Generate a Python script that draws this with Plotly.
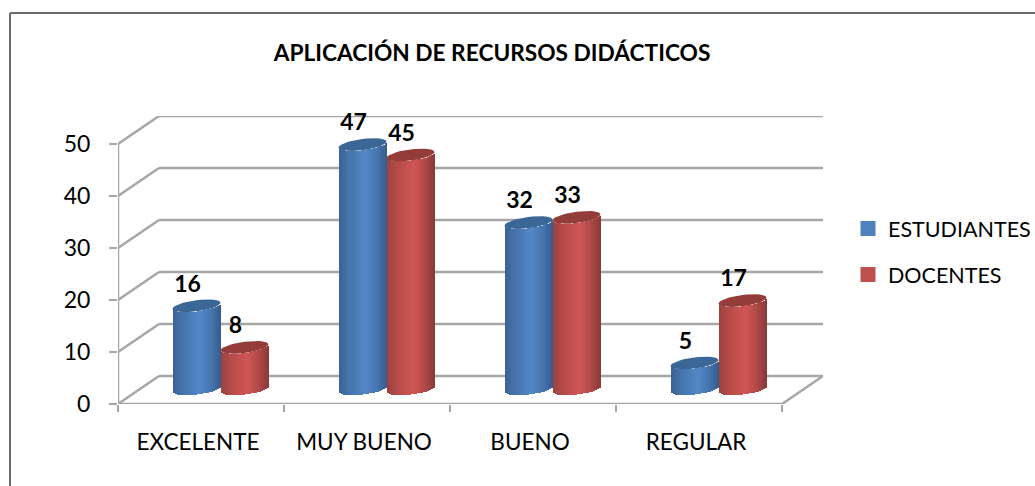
import math
import plotly.graph_objects as go

# ---- data ----
categorias = ["EXCELENTE", "MUY BUENO", "BUENO", "REGULAR"]
estudiantes = [16, 47, 32, 5]
docentes = [8, 45, 33, 17]
y_ticks = [0, 10, 20, 30, 40, 50]

# ---- look ----
FONT = "Lato, Carlito, Calibri, sans-serif"
GRID = "#a6a6a6"
BLUE = "#4f81bd"
RED = "#c0504d"
BLUE_STOPS = [(0.0, "#3a6496"), (0.2, "#4573ab"), (0.55, "#5388c8"), (0.8, "#4674ad"), (1.0, "#355c8c")]
RED_STOPS = [(0.0, "#9a4341"), (0.2, "#b44b49"), (0.55, "#d05654"), (0.8, "#ae4947"), (1.0, "#883a38")]
BLUE_CAP = "#3b6797"
RED_CAP = "#943c3a"

W, H = 1035, 486
X0, X_END, X_BACK = 118, 782, 823   # pixel columns of the floor
Y0, Y50 = 404, 144                  # pixel rows of 0 and 50
DX, DY = 41, 28                     # depth of the 3D box in pixels

cat_px = (X_END - X0) / len(categorias)
val_px = (Y0 - Y50) / 50
dx = DX / cat_px
dy = DY / val_px
x_lo = -0.5
x_hi = x_lo + (X_BACK - X0) / cat_px
y_hi = (Y0 - (Y50 - DY)) / val_px

# cylinders
shift = 19.5 / cat_px
bar_w = 48 / cat_px
depth = 15 / val_px
ell_b = 5.6 / val_px
tilt = 3.0 / val_px
N_STRIP = 24


def hex_rgb(c):
    return [int(c[i:i + 2], 16) for i in (1, 3, 5)]


def shade(stops, t):
    for (t0, c0), (t1, c1) in zip(stops, stops[1:]):
        if t <= t1:
            f = (t - t0) / (t1 - t0)
            a, b = hex_rgb(c0), hex_rgb(c1)
            return "rgb(%d,%d,%d)" % tuple(a[i] + (b[i] - a[i]) * f for i in range(3))
    return stops[-1][1]


def cylinder(values, side, stops, name):
    # one bar per vertical strip, so the body of the cylinder gets its shading
    xs, ys, bases, colors = [], [], [], []
    strip = bar_w / N_STRIP
    for i, v in enumerate(values):
        cx = i + shift + side * bar_w / 2
        for s in range(N_STRIP):
            u = -1 + (2 * s + 1) / N_STRIP
            xs.append(cx + u * bar_w / 2)
            ys.append(v)
            bases.append(depth + tilt * u - ell_b * math.sqrt(1 - u * u))
            colors.append(shade(stops, (u + 1) / 2))
    return go.Bar(x=xs, y=ys, base=bases, width=strip, marker=dict(color=colors, line=dict(width=0)),
                  name=name, showlegend=False, hoverinfo="skip")


def cap(values, side, color):
    xs, ys = [], []
    for i, v in enumerate(values):
        cx = i + shift + side * bar_w / 2
        for k in range(41):
            t = 2 * math.pi * k / 40
            u = math.cos(t)
            xs.append(cx + u * bar_w / 2)
            ys.append(v + depth + tilt * u + ell_b * math.sin(t))
        xs.append(None)
        ys.append(None)
    return go.Scatter(x=xs, y=ys, mode="lines", fill="toself", fillcolor=color, line=dict(width=0),
                      showlegend=False, hoverinfo="skip")


def etiquetas(values, side):
    return go.Scatter(
        x=[i + shift + side * bar_w / 2 - 9 / cat_px for i in range(len(values))],
        y=[v + 35 / val_px for v in values],
        mode="text", text=[str(v) for v in values], textposition="middle center",
        textfont=dict(family=FONT, size=23, color="black", weight="bold"),
        showlegend=False, hoverinfo="skip", cliponaxis=False)


def linea(x0, y0, x1, y1):
    return dict(type="line", x0=x0, y0=y0, x1=x1, y1=y1, layer="below", line=dict(color=GRID, width=2.5))


fig = go.Figure()
fig.add_trace(cylinder(estudiantes, -1, BLUE_STOPS, "ESTUDIANTES"))
fig.add_trace(cylinder(docentes, 1, RED_STOPS, "DOCENTES"))
fig.add_trace(cap(estudiantes, -1, BLUE_CAP))
fig.add_trace(cap(docentes, 1, RED_CAP))
fig.add_trace(etiquetas(estudiantes, -1))
fig.add_trace(etiquetas(docentes, 1))

# empty traces just for the legend swatches
for nombre, color in [("ESTUDIANTES", BLUE), ("DOCENTES", RED)]:
    fig.add_trace(go.Bar(x=[None], y=[None], name=nombre, legendgroup=nombre,
                         marker=dict(color=color, line=dict(color=color, width=3))))

# walls and floor of the fake 3D box
shapes = []
for t in y_ticks:
    shapes.append(linea(x_lo, t, x_lo + dx, t + dy))
    shapes.append(linea(x_lo + dx, t + dy, x_hi, t + dy))
x_end = x_lo + len(categorias)
shapes.append(linea(x_lo, 0, x_end, 0))
shapes.append(linea(x_end, 0, x_hi, dy))
shapes.append(linea(x_lo, 0, x_lo, y_ticks[-1]))

# outer frame of the chart (only top and left are visible)
plot_w, plot_h = X_BACK - X0, Y0 - (Y50 - DY)
px = lambda p: (p - X0) / plot_w
py = lambda p: (Y0 - p) / plot_h
frame = dict(color="#6a6a6a", width=2)
shapes.append(dict(type="line", xref="paper", yref="paper", x0=px(10), y0=py(13), x1=px(W), y1=py(13), line=frame))
shapes.append(dict(type="line", xref="paper", yref="paper", x0=px(10), y0=py(13), x1=px(10), y1=py(H), line=frame))

fig.update_layout(
    width=W, height=H,
    # autoexpand off: the legend sits outside the plot and must not squeeze it
    margin=dict(l=X0, r=W - X_BACK, t=Y50 - DY, b=H - Y0, pad=0, autoexpand=False),
    paper_bgcolor="white", plot_bgcolor="white",
    barmode="overlay", bargap=0,
    font=dict(family=FONT, size=22, color="black"),
    title=dict(text="<b>APLICACIÓN DE RECURSOS DIDÁCTICOS</b>", x=492 / W, xanchor="center",
               y=1 - 53 / H, yanchor="middle", font=dict(family=FONT, size=22.7, color="black")),
    xaxis=dict(range=[x_lo, x_hi], tickmode="array", tickvals=[i - 3 / cat_px for i in range(len(categorias))],
               ticktext=categorias, showgrid=False, zeroline=False, showline=False, ticks="", ticklabelstandoff=22,
               tickfont=dict(size=22.5),
               minor=dict(tickmode="array", tickvals=[x_lo + i for i in range(len(categorias) + 1)], ticks="outside",
                          ticklen=7, tickwidth=2, tickcolor=GRID, showgrid=False)),
    yaxis=dict(range=[0, y_hi], tickmode="array", tickvals=y_ticks, showgrid=False, zeroline=False, showline=False,
               ticks="outside", ticklen=8, tickwidth=2, tickcolor=GRID, ticklabelstandoff=14,
               tickfont=dict(size=23)),
    legend=dict(x=px(848), y=py(208), xanchor="left", yanchor="top", bgcolor="rgba(0,0,0,0)",
                tracegroupgap=15, font=dict(family=FONT, size=21.5)),
    shapes=shapes,
)

fig.write_html("out.html", config=dict(displayModeBar=False), post_script="document.body.style.margin='0';")
